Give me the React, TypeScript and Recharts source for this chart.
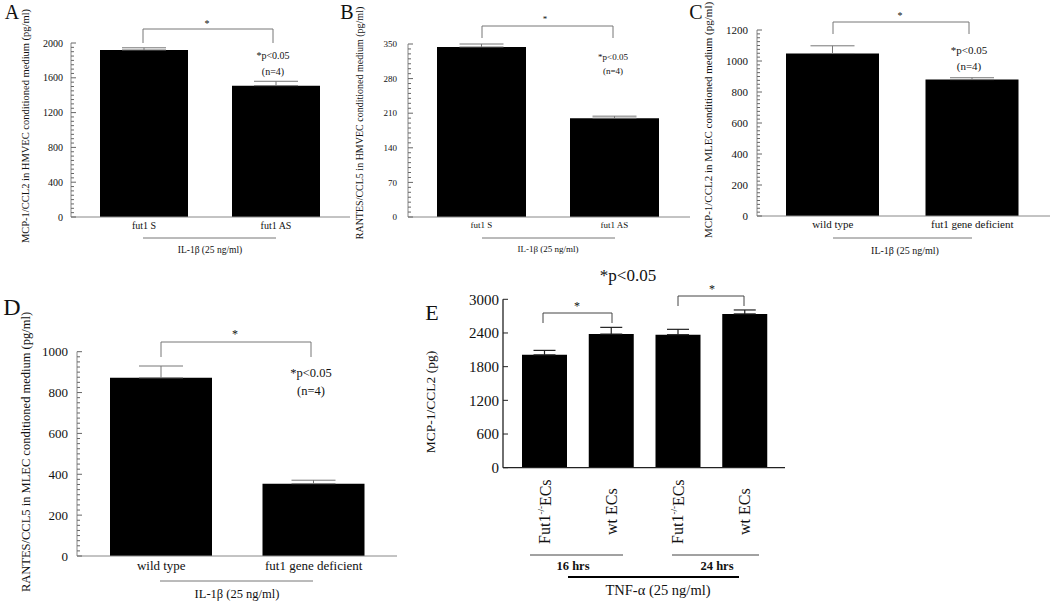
import React from 'react'
import { BarChart, Bar, XAxis, YAxis, ErrorBar } from 'recharts'

// panel A - MCP-1/CCL2 in HMVEC
const aCategories = ['fut1 S', 'fut1 AS']
const aValues = [1920, 1510]
const aErrors = [25, 50]
const aTicks = [0, 400, 800, 1200, 1600, 2000]

// panel B - RANTES/CCL5 in HMVEC
const bCategories = ['fut1 S', 'fut1 AS']
const bValues = [344, 200]
const bErrors = [6, 4]
const bTicks = [0, 70, 140, 210, 280, 350]

// panel C - MCP-1/CCL2 in MLEC
const cCategories = ['wild type', 'fut1 gene deficient']
const cValues = [1048, 880]
const cErrors = [50, 12]
const cTicks = [0, 200, 400, 600, 800, 1000, 1200]

// panel D - RANTES/CCL5 in MLEC
const dCategories = ['wild type', 'fut1 gene deficient']
const dValues = [872, 354]
const dErrors = [58, 17]
const dTicks = [0, 200, 400, 600, 800, 1000]

// panel E - MCP-1/CCL2 after TNF-a
const eLabels = ['Fut1-/-ECs', 'wt ECs', 'Fut1-/-ECs', 'wt ECs']
const eGroups = ['16 hrs', '16 hrs', '24 hrs', '24 hrs']
const eValues = [2010, 2380, 2370, 2740]
const eErrors = [80, 120, 95, 70]
const eTicks = [0, 600, 1200, 1800, 2400, 3000]

const FONT = '"Liberation Serif", "DejaVu Serif", serif'

function withMinors(majors: number[], subdiv: number) {
  const out: number[] = []
  for (let i = 0; i < majors.length - 1; i++) {
    const step = (majors[i + 1] - majors[i]) / subdiv
    for (let k = 0; k < subdiv; k++) out.push(majors[i] + step * k)
  }
  out.push(majors[majors.length - 1])
  return out
}

function YTick(props: any) {
  const { majors, fontSize, gap, color } = props
  const x = Number(props.x)
  const y = Number(props.y)
  const v = Number(props.payload.value)
  const isMajor = majors.some((m: number) => Math.abs(m - v) < 1e-6)
  const ax = x + gap
  return (
    <g>
      <path d={`M${ax},${y}H${ax + (isMajor ? 5 : 3)}`} stroke={color} strokeWidth={1} fill="none" />
      {isMajor && (
        <text x={x} y={y} dy="0.35em" textAnchor="end" fontSize={fontSize} fill="#111" fontFamily={FONT}>
          {v}
        </text>
      )}
    </g>
  )
}

type PanelProps = {
  left: number
  top: number
  width: number
  height: number
  margin: { top: number; right: number; bottom: number; left: number }
  categories: string[]
  values: number[]
  errors: number[]
  majors: number[]
  subdiv: number
  fontSize: number
  labelGap: number
  xMargin: number
  barSize: number
  pad: { left: number; right: number }
  cap: number
}

function Panel(p: PanelProps) {
  const rows = p.categories.map((c, i) => ({ name: c, value: p.values[i], err: [0, p.errors[i]] }))
  const ticks = withMinors(p.majors, p.subdiv)
  return (
    <div style={{ position: 'absolute', left: p.left, top: p.top }}>
      <BarChart width={p.width} height={p.height} data={rows} margin={p.margin}>
        <XAxis
          dataKey="name"
          height={25}
          stroke="#888"
          tickLine={false}
          tickSize={0}
          tickMargin={p.xMargin}
          padding={p.pad}
          tick={{ fontSize: p.fontSize, fill: '#111', fontFamily: FONT }}
        />
        <YAxis
          type="number"
          width={50}
          domain={[p.majors[0], p.majors[p.majors.length - 1]]}
          ticks={ticks}
          interval={0}
          stroke="#888"
          tickLine={false}
          tickSize={0}
          tickMargin={p.labelGap}
          tick={(t: any) => <YTick {...t} majors={p.majors} fontSize={p.fontSize} gap={p.labelGap} color="#666" />}
        />
        <Bar dataKey="value" fill="#000" barSize={p.barSize} isAnimationActive={false}>
          <ErrorBar dataKey="err" direction="y" width={p.cap} stroke="#777" strokeWidth={1} isAnimationActive={false} />
        </Bar>
      </BarChart>
    </div>
  )
}

function ETick(props: any) {
  const x = Number(props.x)
  const y = Number(props.y)
  const label = eLabels[props.payload.index]
  const mutant = label.startsWith('Fut1')
  return (
    <text
      transform={`translate(${x},${y + 44}) rotate(-90)`}
      textAnchor="middle"
      dy="0.35em"
      fontSize={16}
      fill="#111"
      fontFamily={FONT}
    >
      {mutant ? (
        <>
          <tspan>Fut1</tspan>
          <tspan fontSize={9} dy="-0.7em">-/-</tspan>
          <tspan dy="0.45em">ECs</tspan>
        </>
      ) : (
        label
      )}
    </text>
  )
}

function PanelE() {
  const rows = eLabels.map((l, i) => ({ key: `${l} ${eGroups[i]}`, value: eValues[i], err: [0, eErrors[i]] }))
  return (
    <div style={{ position: 'absolute', left: 440, top: 290 }}>
      <BarChart width={350} height={300} data={rows} margin={{ top: 9.3, right: 5, bottom: 62.3, left: 13 }}>
        <XAxis
          dataKey="key"
          height={60}
          stroke="#222"
          strokeWidth={1.3}
          tickLine={false}
          tickSize={0}
          tickMargin={0}
          padding={{ left: 8, right: 7 }}
          interval={0}
          tick={(t: any) => <ETick {...t} />}
        />
        <YAxis
          type="number"
          width={50}
          domain={[0, 3000]}
          ticks={eTicks}
          interval={0}
          stroke="#222"
          strokeWidth={1.3}
          tickLine={false}
          tickSize={0}
          tickMargin={4}
          tick={(t: any) => <YTick {...t} majors={eTicks} fontSize={15} gap={4} color="#222" />}
        />
        <Bar dataKey="value" fill="#000" barSize={45} isAnimationActive={false}>
          <ErrorBar dataKey="err" direction="y" width={11} stroke="#222" strokeWidth={1.2} isAnimationActive={false} />
        </Bar>
      </BarChart>
    </div>
  )
}

function Bracket({ x1, x2, top, bottom, color }: { x1: number; x2: number; top: number; bottom: number; color: string }) {
  return <path d={`M${x1},${bottom}V${top}H${x2}V${bottom}`} fill="none" stroke={color} strokeWidth={1} />
}

function Label({ x, y, size, children, rotate, weight }: any) {
  return (
    <text
      x={rotate ? 0 : x}
      y={rotate ? 0 : y}
      transform={rotate ? `translate(${x},${y}) rotate(-90)` : undefined}
      textAnchor="middle"
      dominantBaseline="central"
      fontSize={size}
      fontWeight={weight}
      fontFamily={FONT}
      fill="#111"
    >
      {children}
    </text>
  )
}

function Overlay() {
  const g = '#777'
  return (
    <svg width={1050} height={604} style={{ position: 'absolute', left: 0, top: 0, pointerEvents: 'none' }}>
      {/* A */}
      <Label x={12} y={12} size={20}>A</Label>
      <Label x={25} y={126} size={10.5} rotate>MCP-1/CCL2 in HMVEC conditioned medium (pg/ml)</Label>
      <Bracket x1={143} x2={273} top={29} bottom={43} color={g} />
      <Label x={207} y={23} size={10}>*</Label>
      <Label x={273} y={55} size={10}>*p&lt;0.05</Label>
      <Label x={273} y={71} size={10}>(n=4)</Label>
      <line x1={143} x2={276} y1={238} y2={238} stroke={g} />
      <Label x={210} y={250} size={9.5}>IL-1β (25 ng/ml)</Label>

      {/* B */}
      <Label x={347} y={12} size={20}>B</Label>
      <Label x={359} y={123} size={10} rotate>RANTES/CCL5 in HMVEC conditioned medium (pg/ml)</Label>
      <Bracket x1={482} x2={613} top={26} bottom={38} color={g} />
      <Label x={545} y={19} size={9}>*</Label>
      <Label x={613} y={57} size={9}>*p&lt;0.05</Label>
      <Label x={613} y={71} size={9}>(n=4)</Label>
      <line x1={482} x2={615} y1={238} y2={238} stroke={g} />
      <Label x={548} y={249} size={9}>IL-1β (25 ng/ml)</Label>

      {/* C */}
      <Label x={696} y={12} size={20}>C</Label>
      <Label x={708} y={120} size={11} rotate>MCP-1/CCL2 in MLEC conditioned medium (pg/ml)</Label>
      <Bracket x1={833} x2={969} top={22} bottom={34} color={g} />
      <Label x={900} y={15} size={10}>*</Label>
      <Label x={969} y={50} size={11}>*p&lt;0.05</Label>
      <Label x={969} y={66} size={11}>(n=4)</Label>
      <line x1={833} x2={972} y1={238} y2={238} stroke={g} />
      <Label x={905} y={250} size={10}>IL-1β (25 ng/ml)</Label>

      {/* D */}
      <Label x={12} y={307} size={24}>D</Label>
      <Label x={26} y={452} size={12.5} rotate>RANTES/CCL5 in MLEC conditioned medium (pg/ml)</Label>
      <Bracket x1={161} x2={311} top={342} bottom={357} color={g} />
      <Label x={235} y={334} size={12}>*</Label>
      <Label x={311} y={373} size={12.5}>*p&lt;0.05</Label>
      <Label x={311} y={391} size={12.5}>(n=4)</Label>
      <line x1={160} x2={313} y1={581} y2={581} stroke={g} />
      <Label x={237} y={594} size={12.5}>IL-1β (25 ng/ml)</Label>

      {/* E */}
      <Label x={432} y={312} size={22}>E</Label>
      <Label x={430} y={402} size={13.5} rotate>MCP-1/CCL2 (pg)</Label>
      <Label x={628} y={275} size={17}>*p&lt;0.05</Label>
      <Bracket x1={543} x2={612} top={313} bottom={323} color="#444" />
      <Label x={577} y={306} size={12}>*</Label>
      <Bracket x1={678} x2={744} top={296} bottom={306} color="#444" />
      <Label x={712} y={289} size={12}>*</Label>
      <line x1={530} x2={623} y1={555} y2={555} stroke="#444" />
      <line x1={672} x2={759} y1={555} y2={555} stroke="#444" />
      <Label x={573} y={566} size={12.5} weight="bold">{eGroups[0]}</Label>
      <Label x={717} y={566} size={12.5} weight="bold">{eGroups[2]}</Label>
      <line x1={568} x2={739} y1={577} y2={577} stroke="#000" strokeWidth={2} />
      <Label x={658} y={590} size={14.5}>TNF-α (25 ng/ml)</Label>
    </svg>
  )
}

export default function App() {
  return (
    <div style={{ position: 'absolute', left: 0, top: 0, width: 1050, height: 604, background: '#fff', fontFamily: FONT }}>
      <Panel
        left={0} top={0} width={352} height={245}
        margin={{ top: 43, right: 2, bottom: 3, left: 21 }}
        categories={aCategories} values={aValues} errors={aErrors}
        majors={aTicks} subdiv={8} fontSize={10} labelGap={8} xMargin={4.5}
        barSize={88} pad={{ left: 7, right: 8 }} cap={22}
      />
      <Panel
        left={350} top={0} width={342} height={245}
        margin={{ top: 44, right: 2, bottom: 3, left: 8 }}
        categories={bCategories} values={bValues} errors={bErrors}
        majors={bTicks} subdiv={7} fontSize={9} labelGap={11} xMargin={5}
        barSize={89} pad={{ left: 7, right: 9 }} cap={22}
      />
      <Panel
        left={690} top={0} width={360} height={245}
        margin={{ top: 30, right: 0, bottom: 4, left: 17 }}
        categories={cCategories} values={cValues} errors={cErrors}
        majors={cTicks} subdiv={8} fontSize={11} labelGap={9} xMargin={4}
        barSize={93} pad={{ left: 6, right: 8 }} cap={22}
      />
      <Panel
        left={0} top={290} width={400} height={300}
        margin={{ top: 61.7, right: 3, bottom: 9, left: 27 }}
        categories={dCategories} values={dValues} errors={dErrors}
        majors={dTicks} subdiv={8} fontSize={13} labelGap={9} xMargin={5}
        barSize={102} pad={{ left: 8, right: 7 }} cap={22}
      />
      <PanelE />
      <Overlay />
    </div>
  )
}
